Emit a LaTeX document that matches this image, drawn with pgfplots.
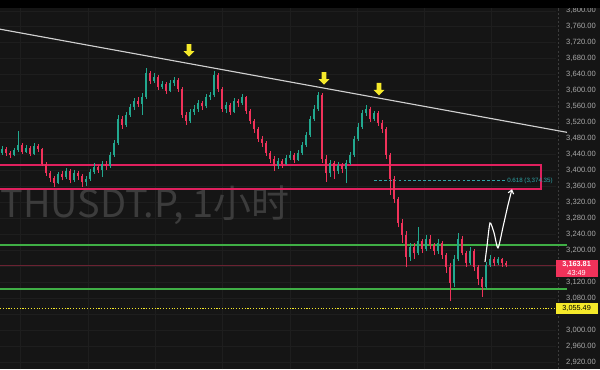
\documentclass[border=0pt]{standalone}
\usepackage{fontspec}
\setmainfont{Liberation Sans}
\newfontfamily\cjk{Noto Sans CJK SC}
\usepackage{pgfplots}
\pgfplotsset{compat=1.18}
\usepackage{pgfplotstable}
\usetikzlibrary{shapes.arrows, arrows.meta}

\definecolor{bg}{HTML}{151515}
\definecolor{gridc}{HTML}{1E1E1E}
\definecolor{cup}{HTML}{22A88F}
\definecolor{cdn}{HTML}{F0325A}
\definecolor{zone}{HTML}{E0205E}
\definecolor{gline}{HTML}{3FAE45}
\definecolor{fib}{HTML}{2EA6A8}
\definecolor{yel}{HTML}{F5E92A}
\definecolor{lblgray}{HTML}{A8A8A8}
\definecolor{wm}{HTML}{3C3C3C}
\definecolor{curline}{HTML}{6A2232}
\definecolor{trend}{HTML}{D0D0D0}
\definecolor{vdash}{HTML}{3C3C3C}

\pgfplotstableread{
x o h l c
2 3445 3462 3440 3455
14 3440 3458 3436 3452
18 3452 3500 3448 3465
26 3448 3465 3444 3458
34 3442 3470 3440 3462
58 3370 3398 3366 3392
66 3385 3406 3380 3400
74 3378 3402 3372 3395
86 3372 3386 3362 3380
90 3380 3404 3375 3398
94 3398 3420 3392 3410
102 3402 3425 3384 3418
110 3412 3448 3408 3440
114 3440 3478 3435 3470
118 3470 3540 3465 3530
126 3515 3548 3510 3540
130 3540 3568 3535 3560
134 3560 3582 3552 3575
142 3568 3595 3540 3585
146 3585 3656 3580 3645
154 3625 3645 3620 3635
162 3610 3625 3604 3618
170 3600 3628 3596 3620
174 3620 3635 3612 3628
190 3525 3555 3520 3548
194 3548 3565 3540 3555
198 3555 3578 3548 3570
206 3562 3592 3556 3585
210 3585 3598 3578 3590
214 3590 3650 3585 3640
226 3555 3572 3545 3565
234 3548 3582 3544 3575
242 3570 3592 3565 3585
278 3412 3432 3405 3425
286 3418 3440 3414 3432
290 3432 3450 3428 3440
298 3428 3452 3424 3445
302 3445 3472 3440 3465
306 3465 3498 3460 3490
310 3490 3538 3485 3530
314 3530 3565 3525 3555
318 3555 3598 3550 3590
330 3395 3428 3385 3420
338 3400 3422 3392 3415
346 3405 3428 3368 3420
350 3420 3448 3415 3440
354 3440 3488 3435 3480
358 3480 3520 3475 3510
362 3510 3552 3505 3545
366 3545 3565 3538 3555
374 3530 3550 3525 3545
410 3185 3220 3175 3210
418 3195 3258 3188 3225
426 3205 3240 3198 3230
438 3200 3228 3192 3220
454 3120 3190 3110 3180
458 3180 3245 3175 3230
470 3170 3210 3165 3200
486 3110 3172 3105 3165
490 3165 3188 3160 3180
498 3170 3185 3165 3178
}\up

\pgfplotstableread{
x o h l c
6 3455 3460 3438 3445
10 3445 3450 3432 3440
22 3465 3470 3442 3448
30 3458 3462 3436 3442
38 3462 3468 3448 3455
42 3455 3458 3412 3418
46 3418 3422 3388 3395
50 3395 3400 3372 3382
54 3382 3388 3358 3370
62 3392 3400 3376 3385
70 3400 3404 3368 3378
78 3395 3400 3378 3388
82 3388 3392 3360 3372
98 3410 3415 3395 3402
106 3418 3424 3402 3412
122 3530 3538 3505 3515
138 3575 3585 3560 3568
150 3645 3650 3618 3625
158 3635 3640 3602 3610
166 3618 3622 3592 3600
178 3628 3632 3598 3605
182 3605 3610 3532 3540
186 3540 3548 3515 3525
202 3570 3575 3552 3562
218 3640 3645 3598 3605
222 3605 3610 3548 3555
230 3565 3570 3540 3548
238 3575 3580 3560 3570
246 3585 3588 3542 3550
250 3550 3555 3518 3525
254 3525 3530 3495 3505
258 3505 3510 3472 3480
262 3480 3488 3460 3470
266 3470 3475 3438 3445
270 3445 3450 3420 3430
274 3430 3436 3400 3412
282 3425 3430 3408 3418
294 3440 3445 3420 3428
322 3590 3595 3420 3430
326 3430 3440 3372 3395
334 3420 3425 3380 3400
342 3415 3420 3395 3405
370 3555 3560 3522 3530
378 3545 3550 3512 3520
382 3520 3528 3495 3505
386 3505 3510 3430 3440
390 3440 3445 3340 3380
394 3380 3388 3320 3330
398 3330 3335 3258 3270
402 3270 3278 3220 3240
406 3240 3250 3158 3185
414 3210 3218 3180 3195
422 3225 3230 3195 3205
430 3230 3238 3205 3215
434 3215 3220 3188 3200
442 3220 3225 3180 3190
446 3190 3195 3145 3160
450 3160 3168 3075 3120
462 3230 3236 3188 3195
466 3195 3200 3160 3170
474 3200 3205 3150 3160
478 3160 3165 3115 3130
482 3130 3135 3085 3110
494 3180 3185 3162 3170
502 3178 3182 3160 3168
506 3168 3175 3158 3163.81
}\dn

\begin{document}
\begin{tikzpicture}
\begin{axis}[
  width=15cm, height=9.225cm, scale only axis,
  xmin=0, xmax=600, ymin=2904, ymax=3827,
  axis background/.style={fill=bg},
  axis line style={draw=none},
  xtick=\empty,
  ytick={2920,2960,3000,3080,3120,3200,3240,3280,3320,3360,3400,3440,3480,3520,3560,3600,3640,3680,3720,3760,3800},
  yticklabel pos=right,
  major tick length=0pt,
  yticklabel style={font=\fontsize{5.4}{6}\selectfont, text=lblgray, anchor=east, inner sep=0pt, xshift=-2.8pt},
  /pgf/number format/.cd, fixed, fixed zerofill, precision=2, 1000 sep={,}, assume math mode=true,
]
% top strip
\fill[black] (axis cs:0,3806.75) rectangle (axis cs:600,3827);
% grid
\pgfplotsinvokeforeach{2920,2960,3000,3040,3080,3120,3160,3200,3240,3280,3320,3360,3400,3440,3480,3520,3560,3600,3640,3680,3720,3760,3800}{
  \draw[gridc, line width=0.4pt] (axis cs:0,#1) -- (axis cs:556,#1);
}
\pgfplotsinvokeforeach{20,88,155,222,290,357,424,491}{
  \draw[gridc, line width=0.5pt] (axis cs:#1,2904) -- (axis cs:#1,3806.75);
}
\draw[vdash, line width=0.5pt, dash pattern=on 1.5pt off 1.5pt] (axis cs:558,2904) -- (axis cs:558,3806.75);
% watermark
\node[anchor=base west, text=wm, font=\cjk\fontsize{27}{30}\selectfont, inner sep=0pt] at (axis cs:0,3281.75) {THUSDT.P, 1小时};
% zone
\draw[draw=zone, line width=1.4pt] (axis cs:-5,3414.27) -- (axis cs:541,3414.27) -- (axis cs:541,3354) -- (axis cs:-5,3354);
% horizontal levels
\draw[draw=gline, line width=1pt] (axis cs:0,3214.16) -- (axis cs:567,3214.16);
\draw[draw=gline, line width=1pt] (axis cs:0,3104) -- (axis cs:567,3104);
\draw[draw=curline, line width=0.7pt] (axis cs:0,3163.81) -- (axis cs:556,3163.81);
\draw[draw=yel, line width=0.9pt, dash pattern=on 0.8pt off 1.2pt] (axis cs:0,3055.49) -- (axis cs:568,3055.49);
% fib
\draw[draw=fib, line width=0.7pt, dash pattern=on 2pt off 1.5pt] (axis cs:374,3374.35) -- (axis cs:505,3374.35);
\node[anchor=west, text=fib, font=\fontsize{4.4}{5}\selectfont, inner sep=0pt] at (axis cs:507,3374.35) {0.618 (3,374.35)};
% candles: wicks
\addplot[cup, line width=0.45pt, quiver={u=0, v=\thisrow{h}-\thisrow{l}}] table[x=x, y=l] {\up};
\addplot[cdn, line width=0.45pt, quiver={u=0, v=\thisrow{h}-\thisrow{l}}] table[x=x, y=l] {\dn};
% candles: bodies
\addplot[cup, line width=2pt, quiver={u=0, v=\thisrow{c}-\thisrow{o}}] table[x=x, y=o] {\up};
\addplot[cdn, line width=2pt, quiver={u=0, v=\thisrow{c}-\thisrow{o}}] table[x=x, y=o] {\dn};
% trendline
\draw[draw=trend, line width=0.8pt] (axis cs:0,3754) -- (axis cs:567,3496);
% yellow arrows
\node[single arrow, shape border rotate=270, fill=yel, draw=none, inner sep=1.5pt, minimum height=9pt, single arrow head extend=2.2pt] at (axis cs:189,3704) {};
\node[single arrow, shape border rotate=270, fill=yel, draw=none, inner sep=1.5pt, minimum height=9pt, single arrow head extend=2.2pt] at (axis cs:324,3634) {};
\node[single arrow, shape border rotate=270, fill=yel, draw=none, inner sep=1.5pt, minimum height=9pt, single arrow head extend=2.2pt] at (axis cs:379,3607) {};
% freehand arrow
\addplot[white, line width=0.8pt, smooth, tension=0.4, -{Straight Barb[length=2.5pt,width=4pt]}] coordinates {
(485,3171.75) (487,3211.75) (490,3269.25) (494,3244.75) (498,3206.75) (503,3259.25) (508,3314.25) (512,3353.75)};
% price labels
\node[anchor=north east, fill=cdn, text=white, inner xsep=1.5pt, inner ysep=1.4pt, minimum width=30pt, font=\fontsize{5.2}{6}\selectfont, align=center] at (axis cs:598,3178.3) {\textbf{3,163.81}\\43:49};
\node[anchor=east, fill=yel, text=black, inner xsep=1.5pt, inner ysep=1.5pt, minimum width=30pt, font=\fontsize{5.2}{5.6}\selectfont] at (axis cs:598,3055.49) {3,055.49};
\end{axis}
\pgfresetboundingbox
\path (current axis.south west) rectangle (current axis.north east);
\end{tikzpicture}
\end{document}
